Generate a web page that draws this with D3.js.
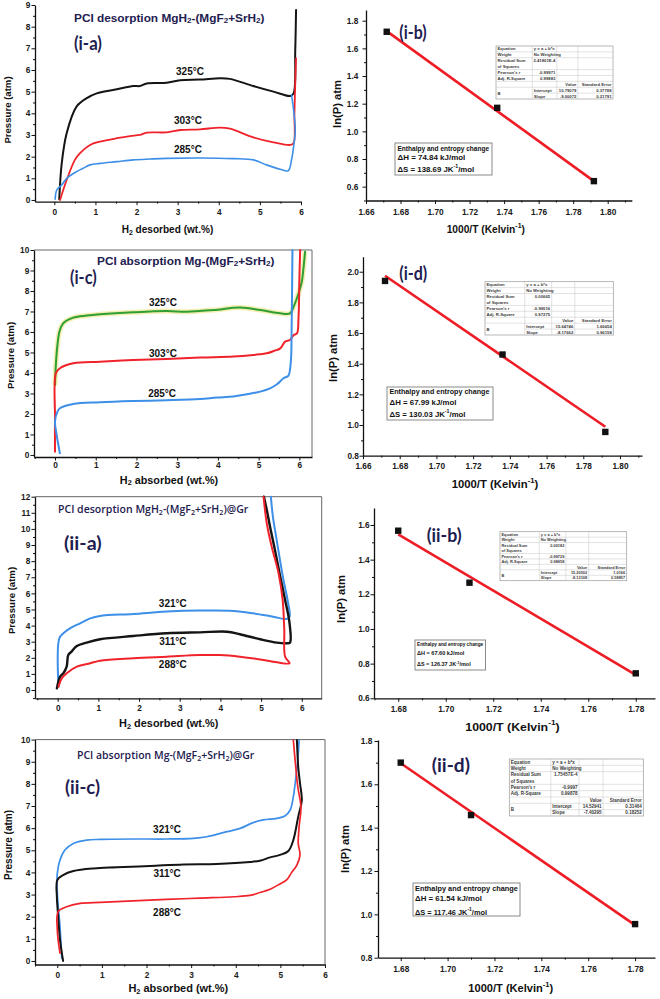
<!DOCTYPE html>
<html>
<head>
<meta charset="utf-8">
<script src="https://cdn.jsdelivr.net/npm/d3@7"></script>
<style>
body{margin:0;background:#fff;}
svg{display:block;}
</style>
</head>
<body>
<svg id="chart" width="660" height="999"></svg>
<script>
// ================= DATA =================
// (i-a) PCI desorption MgH2-(MgF2+SrH2)
const iaTemps = ["325°C", "303°C", "285°C"];
const ia325 = [[0.12,0.03],[0.18,1.69],[0.30,3.08],[0.54,4.31],[0.78,4.69],[1.03,4.92],[1.52,5.11],[1.92,5.26],[2.08,5.26],[2.25,5.38],[2.73,5.41],[3.06,5.53],[3.54,5.56],[4.03,5.62],[4.27,5.59],[4.84,5.26],[5.33,5.0],[5.74,4.80],[5.82,4.92],[5.86,6.9],[5.88,8.77]];
const ia303 = [[0.14,0.0],[0.30,0.92],[0.50,1.85],[0.62,2.15],[0.87,2.54],[1.11,2.69],[1.52,2.85],[1.84,2.95],[2.08,3.0],[2.25,3.11],[2.73,3.12],[3.06,3.23],[3.54,3.26],[4.03,3.34],[4.27,3.29],[4.84,2.89],[5.33,2.66],[5.74,2.54],[5.82,2.62],[5.84,4.0],[5.86,5.38],[5.88,6.54]];
const ia285 = [[0.02,0.03],[0.06,0.46],[0.18,0.69],[0.30,1.0],[0.54,1.31],[0.70,1.46],[0.87,1.62],[1.11,1.69],[1.52,1.77],[1.92,1.85],[2.33,1.89],[2.73,1.92],[3.54,1.94],[4.35,1.91],[4.84,1.85],[5.16,1.62],[5.49,1.42],[5.69,1.35],[5.77,1.85],[5.82,2.46],[5.86,3.23],[5.82,4.15],[5.77,4.85]];
const iaLabelXY = [[3.30,5.91],[3.25,3.69],[3.25,2.35]];

// (i-b) van't Hoff, desorption
const ibInvT = [1.672, 1.736, 1.792];
const ibLnP = [1.72, 1.17, 0.64];
const ibFit = [[1.672, 1.725], [1.792, 0.64]];
const ibStats = ["y = a + b*x","No Weighting","2.41801E-4","-0.99971","0.99883","10.79079","0.37788","-9.00072","0.21791"];
const ibThermo = ["74.84", "138.69"];

// (i-c) PCI absorption Mg-(MgF2+SrH2)
const icTemps = ["325°C", "303°C", "285°C"];
const ic325 = [[0,3.41],[0.02,4.39],[0.06,5.37],[0.11,6.02],[0.2,6.42],[0.45,6.7],[0.78,6.8],[1.1,6.86],[1.92,6.96],[2.74,7.02],[3.24,6.99],[3.89,7.07],[4.55,7.19],[5.04,7.07],[5.53,6.91],[5.77,6.91],[5.86,7.24],[5.98,7.89],[6.06,8.46],[6.10,9.1],[6.14,9.92]];
const ic303 = [[0,0.16],[0,1.79],[0.02,3.98],[0.12,4.23],[0.45,4.47],[1.1,4.55],[1.92,4.63],[2.74,4.68],[3.56,4.75],[4.38,4.8],[4.87,4.88],[5.2,4.96],[5.37,5.07],[5.53,5.2],[5.65,5.53],[5.77,5.61],[5.86,5.85],[5.94,5.93],[5.98,6.75],[6.0,8.62],[6.02,10]];
const ic285 = [[0.12,0.08],[0.04,0.98],[0,1.63],[0.06,2.11],[0.12,2.28],[0.45,2.49],[1.1,2.57],[1.92,2.63],[2.74,2.67],[3.56,2.73],[3.97,2.8],[4.38,2.85],[4.71,2.96],[5.04,3.09],[5.28,3.25],[5.45,3.45],[5.61,3.74],[5.73,3.87],[5.79,4.55],[5.81,6.18],[5.83,10]];
const icLabelXY = [[2.65,7.46],[2.65,4.93],[2.63,2.98]];

// (i-d) van't Hoff, absorption
const idInvT = [1.672, 1.736, 1.792];
const idLnP = [1.94, 1.46, 0.955];
const idFit = [[1.672, 1.974], [1.792, 0.989]];
const idStats = ["y = a + b*x","No Weighting","0.00665","-0.99516","0.97275","15.64746","1.66654","-8.17662","0.96158"];
const idThermo = ["67.99", "130.03"];

// (ii-a) PCI desorption MgH2-(MgF2+SrH2)@Gr
const iiaTemps = ["321°C", "311°C", "288°C"];
const iia321 = [[0.02,0.21],[0.04,3.21],[0.14,3.52],[0.3,3.83],[0.55,4.14],[0.8,4.45],[1.04,4.6],[1.86,4.72],[2.68,4.87],[3.5,4.93],[4.32,4.91],[4.81,4.76],[5.3,4.55],[5.63,4.41],[5.7,4.55],[5.65,5.59],[5.55,6.83],[5.45,8.28],[5.37,9.52],[5.29,10.77],[5.24,12]];
const iia311 = [[-0.02,0.1],[0.06,0.83],[0.14,1.04],[0.22,1.45],[0.26,2.17],[0.34,2.38],[0.47,2.73],[0.71,2.94],[1.04,3.15],[1.86,3.35],[2.68,3.52],[3.5,3.58],[4.16,3.62],[4.48,3.46],[4.98,3.15],[5.39,2.94],[5.63,2.9],[5.71,2.94],[5.7,4.14],[5.59,5.59],[5.47,7.04],[5.34,8.7],[5.22,10.14],[5.14,11.18],[5.07,12]];
const iia288 = [[0.02,0.21],[0.1,0.72],[0.22,1.04],[0.47,1.45],[0.8,1.66],[1.04,1.82],[1.86,1.97],[2.68,2.07],[3.5,2.17],[3.99,2.17],[4.48,2.07],[4.98,1.9],[5.39,1.72],[5.7,1.66],[5.59,2.07],[5.57,3.73],[5.53,5.59],[5.43,7.25],[5.26,8.9],[5.14,10.35],[5.06,12]];
const iiaLabelXY = [[2.83,5.34],[2.83,3.04],[2.83,1.61]];

// (ii-b) van't Hoff, desorption @Gr
const iibInvT = [1.68, 1.71, 1.78];
const iibLnP = [1.567, 1.267, 0.744];
const iibFit = [[1.68, 1.546], [1.78, 0.735]];
const iibStats = ["y = a + b*x","No Weighting","0.00182","-0.99729","0.98958","15.20502","1.0166","-8.13108","0.58857"];
const iibThermo = ["67.60", "126.37"];

// (ii-c) PCI absorption Mg-(MgF2+SrH2)@Gr
const iicTemps = ["321°C", "311°C", "288°C"];
const iic321 = [[0.1,0.12],[0.06,1.55],[0,3.05],[0,3.96],[0.06,4.56],[0.17,5.01],[0.36,5.31],[0.66,5.46],[0.96,5.49],[1.7,5.51],[2.45,5.51],[3.05,5.54],[3.35,5.61],[3.8,5.84],[4.1,5.99],[4.39,6.25],[4.62,6.37],[4.92,6.44],[5.1,6.55],[5.22,6.82],[5.29,7.42],[5.34,8.17],[5.39,9.07],[5.42,9.98]];
const iic311 = [[0.13,0],[0.06,0.95],[0.02,2.0],[-0.01,2.9],[0,3.66],[0.13,3.88],[0.36,4.06],[0.81,4.18],[1.33,4.23],[2.08,4.29],[2.83,4.36],[3.57,4.38],[4.32,4.47],[4.54,4.53],[4.77,4.68],[4.99,4.79],[5.18,4.97],[5.29,5.46],[5.4,6.52],[5.48,7.27],[5.44,8.02],[5.4,8.77],[5.37,9.98]];
const iic288 = [[0.06,0.35],[0,1.4],[0.02,2.23],[0.21,2.45],[0.51,2.6],[0.96,2.65],[1.7,2.71],[2.45,2.78],[3.2,2.84],[3.95,2.9],[4.32,2.96],[4.54,3.09],[4.77,3.24],[4.99,3.48],[5.14,3.66],[5.25,3.99],[5.37,4.33],[5.44,4.79],[5.4,5.31],[5.42,6.06],[5.46,6.97],[5.39,7.87],[5.33,9.07],[5.29,9.98]];
const iicLabelXY = [[2.46,5.96],[2.46,3.97],[2.46,2.17]];

// (ii-d) van't Hoff, absorption @Gr
const iidInvT = [1.68, 1.71, 1.78];
const iidLnP = [1.70, 1.458, 0.955];
const iidFit = [[1.68, 1.697], [1.78, 0.95]];
const iidStats = ["y = a + b*x","No Weighting","1.75457E-4","-0.9997","0.99878","14.52941","0.31464","-7.40295","0.18252"];
const iidThermo = ["61.54", "117.46"];

// tick values
const pciXTicks = [0,1,2,3,4,5,6];
const iaYTicks = [0,1,2,3,4,5,6,7,8,9];
const icYTicks = [0,1,2,3,4,5,6,7,8,9,10];
const iiaYTicks = [0,1,2,3,4,5,6,7,8,9,10,11,12];
const iicYTicks = [0,1,2,3,4,5,6,7,8,9,10];
const ibXTicks = [1.66,1.68,1.70,1.72,1.74,1.76,1.78,1.80];
const ibYTicks = [0.6,0.8,1.0,1.2,1.4,1.6,1.8];
const idYTicks = [0.8,1.0,1.2,1.4,1.6,1.8,2.0];
const iiXTicks = [1.68,1.70,1.72,1.74,1.76,1.78];
const iibYTicks = [0.6,0.8,1.0,1.2,1.4,1.6];
const iidYTicks = [0.8,1.0,1.2,1.4,1.6,1.8];

// ================= DRAWING =================
const FONT = '"Liberation Sans", Arial, Helvetica, sans-serif';
const svg = d3.select("#chart");
svg.append("rect").attr("width",660).attr("height",999).attr("fill","#fff");

const C = {black:"#141414", red:"#f0232b", blue:"#3d8fe8", green:"#2f9e35", navy:"#1e2050", fit:"#ee1d25"};

function rich(t, parts, fs) {
  let shift = 0;
  parts.forEach(p => {
    let txt, target = 0, size = null;
    if (typeof p === "string") { txt = p; }
    else if (p.sub !== undefined) { txt = p.sub; target = 0.28*fs; size = 0.68*fs; }
    else { txt = p.sup; target = -0.42*fs; size = 0.68*fs; }
    const ts = t.append("tspan").text(txt);
    if (target - shift !== 0) ts.attr("dy", target - shift);
    if (size) ts.attr("font-size", size);
    shift = target;
  });
  return t;
}
function fitW(t, target, ax) {
  const w = t.node().getBBox().width;
  if (w > 0) t.attr("transform", `translate(${ax},0) scale(${target/w},1) translate(${-ax},0)`);
}
function minorOf(major, step, dom) {
  const lo = Math.min(dom[0],dom[1]), hi = Math.max(dom[0],dom[1]);
  const out = [];
  const all = [major[0]-step].concat(major);
  all.forEach(v => { const m = +(v + step/2).toFixed(4); if (m >= lo-1e-9 && m <= hi+1e-9) out.push(m); });
  return out;
}
function styleAxis(sel, fs) {
  sel.selectAll("text").attr("font-family",FONT).attr("font-weight","bold").attr("font-size",fs).attr("fill","#1a1a1a");
  sel.selectAll("line").attr("stroke","#111").attr("stroke-width",1);
  sel.select(".domain").attr("stroke","#111").attr("stroke-width",1.3);
}
function drawAxes(g, x, y, o) {
  const y0 = y.range()[0], x0 = x.range()[0];
  const gx2 = g.append("g").attr("transform",`translate(0,${y0})`)
    .call(d3.axisBottom(x).tickValues(minorOf(o.xTicks, o.xStep, x.domain())).tickSize(2).tickFormat(""));
  gx2.select(".domain").remove(); styleAxis(gx2, o.fs);
  const gy2 = g.append("g").attr("transform",`translate(${x0},0)`)
    .call(d3.axisLeft(y).tickValues(minorOf(o.yTicks, o.yStep, y.domain())).tickSize(2).tickFormat(""));
  gy2.select(".domain").remove(); styleAxis(gy2, o.fs);
  const gx = g.append("g").attr("transform",`translate(0,${y0})`)
    .call(d3.axisBottom(x).tickValues(o.xTicks).tickSize(3.5).tickSizeOuter(0).tickPadding(o.xPad).tickFormat(o.xFmt));
  styleAxis(gx, o.fs);
  const gy = g.append("g").attr("transform",`translate(${x0},0)`)
    .call(d3.axisLeft(y).tickValues(o.yTicks).tickSize(3.5).tickSizeOuter(0).tickPadding(o.yPad).tickFormat(o.yFmt));
  styleAxis(gy, o.fs);
}
function frame(g, x, y) {
  const [xa, xb] = x.range(), [ya, yb] = y.range();
  g.append("path").attr("d", `M${xa},${yb}H${xb}V${ya}`).attr("fill","none").attr("stroke","#666").attr("stroke-width",1);
}
function title(g, parts, x0, width, cy, opt) {
  const t = g.append("text").attr("x",x0).attr("y",cy).attr("dominant-baseline","central")
    .attr("font-family", opt.font).attr("font-weight", opt.weight).attr("font-size", opt.fs).attr("fill", C.navy);
  rich(t, parts, opt.fs);
  fitW(t, width, x0);
}
function tag(g, txt, x0, width, cy) {
  const t = g.append("text").attr("x",x0).attr("y",cy).attr("dominant-baseline","central")
    .attr("font-family","Lato, 'Open Sans', sans-serif").attr("font-weight","bold").attr("font-size",19).attr("fill",C.navy).text(txt);
  fitW(t, width, x0);
}
function xTitle(g, parts, cx, width, cy, fs) {
  const t = g.append("text").attr("x",cx).attr("y",cy).attr("text-anchor","middle").attr("dominant-baseline","central")
    .attr("font-family",FONT).attr("font-weight","bold").attr("font-size",fs).attr("fill","#111");
  rich(t, parts, fs);
  fitW(t, width, cx);
}
function yTitle(g, txt, cx, cy, fs) {
  g.append("text").attr("transform",`translate(${cx},${cy}) rotate(-90)`).attr("text-anchor","middle").attr("dominant-baseline","central")
    .attr("font-family",FONT).attr("font-weight","bold").attr("font-size",fs).attr("fill","#111").text(txt);
}

function pciPanel(cfg) {
  const g = svg.append("g");
  const x = d3.scaleLinear().domain(cfg.xd).range(cfg.xr);
  const y = d3.scaleLinear().domain(cfg.yd).range(cfg.yr);
  if (cfg.frame) frame(g, x, y);
  const line = d3.line().x(d => x(d[0])).y(d => y(d[1])).curve(d3.curveCatmullRom.alpha(0.5));
  cfg.series.forEach(s => {
    if (s.halo) g.append("path").attr("d", line(s.data)).attr("fill","none").attr("stroke","#f3efb0").attr("stroke-width",5).attr("stroke-linejoin","round");
  });
  cfg.series.forEach(s => {
    g.append("path").attr("d", line(s.data)).attr("fill","none").attr("stroke", s.color)
      .attr("stroke-width", s.w || 1.8).attr("stroke-linejoin","round").attr("stroke-linecap","round");
  });
  drawAxes(g, x, y, {xTicks: pciXTicks, xStep: 1, yTicks: cfg.yTicks, yStep: 1, fs: 8.3,
    xPad: cfg.xPad, yPad: 1.2, xFmt: d3.format("d"), yFmt: d3.format("d")});
  g.selectAll("text.tl").data(cfg.labels).join("text").attr("class","tl")
    .attr("x", (d,i) => x(cfg.labelXY[i][0])).attr("y", (d,i) => y(cfg.labelXY[i][1]))
    .attr("text-anchor","middle").attr("dominant-baseline","central")
    .attr("font-family",FONT).attr("font-weight","bold").attr("font-size",10).attr("fill","#111").text(d => d);
  return g;
}

function statsTable(g, x0, y0, w, h, v) {
  const cols = [0, 0.31, 0.52, 0.70, 1].map(f => x0 + f*w);
  const ru = h/9;
  const rb = [0,1,2,4,5,6,7,8,9].map(u => y0 + u*ru);
  g.append("rect").attr("x",x0).attr("y",y0).attr("width",w).attr("height",h).attr("fill","#fff").attr("stroke","#9a9a9a").attr("stroke-width",0.7);
  rb.slice(1,-1).forEach((yy,i) => {
    g.append("line").attr("x1", i === 6 ? cols[1] : cols[0]).attr("x2", cols[4]).attr("y1",yy).attr("y2",yy).attr("stroke","#c4c4c4").attr("stroke-width",0.5);
  });
  [1,2,3].forEach(c => g.append("line").attr("x1",cols[c]).attr("x2",cols[c]).attr("y1",y0).attr("y2",y0+h).attr("stroke","#c4c4c4").attr("stroke-width",0.5));
  const fs = ru*0.72;
  const T = (txt, xx, u, anchor) => g.append("text").attr("x",xx).attr("y", y0 + (u+0.5)*ru).attr("text-anchor",anchor)
    .attr("dominant-baseline","central").attr("font-family",FONT).attr("font-weight","bold").attr("font-size",fs).attr("fill","#3a3a3a").text(txt);
  const L = cols[0]+1.5;
  T("Equation", L, 0, "start"); T("Weight", L, 1, "start"); T("Residual Sum", L, 2, "start"); T("of Squares", L, 3, "start");
  T("Pearson's r", L, 4, "start"); T("Adj. R-Square", L, 5, "start"); T("B", L, 7.5, "start");
  T(v[0], cols[1]+1.5, 0, "start"); T(v[1], cols[1]+1.5, 1, "start");
  T(v[2], cols[2]-1.5, 2, "end"); T(v[3], cols[2]-1.5, 4, "end"); T(v[4], cols[2]-1.5, 5, "end");
  T("Value", cols[3]-1.5, 6, "end"); T("Standard Error", cols[4]-1.5, 6, "end");
  T("Intercept", cols[1]+1.5, 7, "start"); T(v[5], cols[3]-1.5, 7, "end"); T(v[6], cols[4]-1.5, 7, "end");
  T("Slope", cols[1]+1.5, 8, "start"); T(v[7], cols[3]-1.5, 8, "end"); T(v[8], cols[4]-1.5, 8, "end");
}

function thermoBox(g, b, th) {
  g.append("rect").attr("x",b.x).attr("y",b.y).attr("width",b.w).attr("height",b.h).attr("fill","#fff").attr("stroke","#8a8a8a").attr("stroke-width",1);
  const mk = (parts, cy, wid) => {
    const t = g.append("text").attr("x",b.tx).attr("y",cy).attr("dominant-baseline","central")
      .attr("font-family",FONT).attr("font-weight","bold").attr("font-size",b.fs).attr("fill","#111");
    rich(t, parts, b.fs); fitW(t, wid, b.tx);
  };
  mk(["Enthalpy and entropy change"], b.ly[0], b.lw[0]);
  mk(["ΔH =  " + th[0] + " kJ/mol"], b.ly[1], b.lw[1]);
  mk(["ΔS =  " + th[1] + " JK", {sup:"-1"}, "/mol"], b.ly[2], b.lw[2]);
}

function vhPanel(cfg) {
  const g = svg.append("g");
  const x = d3.scaleLinear().domain(cfg.xd).range(cfg.xr);
  const y = d3.scaleLinear().domain(cfg.yd).range(cfg.yr);
  drawAxes(g, x, y, {xTicks: cfg.xTicks, xStep: 0.02, yTicks: cfg.yTicks, yStep: 0.2, fs: 8.3,
    xPad: cfg.xPad, yPad: cfg.yPad, xFmt: d3.format(".2f"), yFmt: d3.format(".1f")});
  statsTable(g, cfg.table[0], cfg.table[1], cfg.table[2], cfg.table[3], cfg.stats);
  g.append("path").attr("d", d3.line().x(d => x(d[0])).y(d => y(d[1]))(cfg.fit))
    .attr("stroke", C.fit).attr("stroke-width", 2.6).attr("fill","none");
  const pts = d3.zip(cfg.px, cfg.py);
  g.selectAll("rect.pt").data(pts).join("rect").attr("class","pt")
    .attr("x", d => x(d[0]) - 3.2).attr("y", d => y(d[1]) - 3.2).attr("width",6.4).attr("height",6.4).attr("fill","#111");
  thermoBox(g, cfg.box, cfg.thermo);
  return g;
}

// ---------- (i-a) ----------
const gA = pciPanel({xd:[-0.47,6.0], xr:[35,301], yd:[-0.08,9], yr:[201.7,5], yTicks: iaYTicks, xPad: 3.8, frame:false,
  series:[{data:ia325,color:C.black,w:2},{data:ia303,color:C.red,w:1.8},{data:ia285,color:C.blue,w:1.6}],
  labels: iaTemps, labelXY: iaLabelXY});
title(gA, ["PCI desorption MgH",{sub:"2"},"-(MgF",{sub:"2"},"+SrH",{sub:"2"},")"], 74, 191, 17, {font:FONT, weight:"bold", fs:11.5});
tag(gA, "(i-a)", 74, 28, 43);
xTitle(gA, ["H",{sub:"2"}," desorbed (wt.%)"], 167.5, 91.7, 229, 10.3);
yTitle(gA, "Pressure (atm)", 7, 110, 9.6);

// ---------- (i-b) ----------
const gB = vhPanel({xd:[1.66,1.814], xr:[366, 366+0.154*1726.4], yd:[0.5,1.877], yr:[200.5,10.05],
  xTicks: ibXTicks, yTicks: ibYTicks, xPad: 5.2, yPad: 4.2,
  px: ibInvT, py: ibLnP, fit: ibFit, stats: ibStats, table:[496,46,117,53], thermo: ibThermo,
  box:{x:395,y:143,w:97,h:32,tx:397.5,fs:7,ly:[148,157,169.5],lw:[92,68,77]}});
tag(gB, "(i-b)", 399.3, 27.3, 31.7);
xTitle(gB, ["1000/T (Kelvin",{sup:"-1"},")"], 485.8, 78.3, 229, 10.3);
yTitle(gB, "ln(P) atm", 337, 104, 11.2);

// ---------- (i-c) ----------
const gC = pciPanel({xd:[-0.516,6.31], xr:[34,312], yd:[-0.1,10], yr:[457,250], yTicks: icYTicks, xPad: 1.8, frame:true,
  series:[{data:ic325,color:C.green,w:2,halo:true},{data:ic303,color:C.red,w:2},{data:ic285,color:C.blue,w:2}],
  labels: icTemps, labelXY: icLabelXY});
title(gC, ["PCI absorption Mg-(MgF",{sub:"2"},"+SrH",{sub:"2"},")"], 97, 178, 260, {font:FONT, weight:"bold", fs:11.5});
tag(gC, "(i-c)", 70, 26.7, 277);
xTitle(gC, ["H",{sub:"2"}," absorbed (wt.%)"], 169, 98.3, 480, 10.3);
yTitle(gC, "Pressure (atm)", 10, 355.5, 9.6);

// ---------- (i-d) ----------
const gD = vhPanel({xd:[1.66,1.812], xr:[363, 363+0.152*1835.7], yd:[0.8,2.098], yr:[455.7,256.7],
  xTicks: ibXTicks, yTicks: idYTicks, xPad: 3.8, yPad: 0.5,
  px: idInvT, py: idLnP, fit: idFit, stats: idStats, table:[485,281.7,128.3,53.3], thermo: idThermo,
  box:{x:387,y:387,w:106,h:33,tx:389.5,fs:7.2,ly:[392.3,401.7,414.5],lw:[100,67,76]}});
tag(gD, "(i-d)", 399.3, 28, 273.3);
xTitle(gD, ["1000/T (Kelvin",{sup:"-1"},")"], 495, 86.7, 484, 10.3);
yTitle(gD, "ln(P) atm", 333, 358, 11.2);

// ---------- (ii-a) ----------
const gE = pciPanel({xd:[-0.558,6.49], xr:[35,321.7], yd:[-0.515,12], yr:[698.3,496.7], yTicks: iiaYTicks, xPad: 3.2, frame:true,
  series:[{data:iia321,color:C.blue,w:2},{data:iia311,color:C.black,w:2.4},{data:iia288,color:C.red,w:2}],
  labels: iiaTemps, labelXY: iiaLabelXY});
title(gE, ["PCI desorption MgH",{sub:"2"},"-(MgF",{sub:"2"},"+SrH",{sub:"2"},")@Gr"], 58, 191, 509, {font:"'Open Sans', sans-serif", weight:"600", fs:10.5});
tag(gE, "(ii-a)", 64, 37.7, 543);
xTitle(gE, ["H",{sub:"2"}," desorbed (wt.%)"], 168.7, 99.3, 723, 10.3);
yTitle(gE, "Pressure (atm)", 11, 600.5, 9.6);

// ---------- (ii-b) ----------
const gF = vhPanel({xd:[1.6698,1.7881], xr:[374,655], yd:[0.6,1.698], yr:[698.3,508],
  xTicks: iiXTicks, yTicks: iibYTicks, xPad: 4.2, yPad: 0.8,
  px: iibInvT, py: iibLnP, fit: iibFit, stats: iibStats, table:[500,531.7,126.7,49], thermo: iibThermo,
  box:{x:415,y:640,w:70.5,h:30,tx:417,fs:6.2,ly:[644.2,653.3,664],lw:[66.7,47.7,54]}});
tag(gF, "(ii-b)", 426.7, 35, 535);
xTitle(gF, ["1000/T (Kelvin",{sup:"-1"},")"], 512.5, 95, 727, 10.8);
yTitle(gF, "ln(P) atm", 341, 599, 11.2);

// ---------- (ii-c) ----------
const gG = pciPanel({xd:[-0.5,6.0], xr:[35,325], yd:[-0.16,10], yr:[964.5,739.6], yTicks: iicYTicks, xPad: 4, frame:true,
  series:[{data:iic321,color:C.blue,w:1.7},{data:iic311,color:C.black,w:2},{data:iic288,color:C.red,w:1.7}],
  labels: iicTemps, labelXY: iicLabelXY});
title(gG, ["PCI absorption Mg-(MgF",{sub:"2"},"+SrH",{sub:"2"},")@Gr"], 77, 178, 755, {font:"'Open Sans', sans-serif", weight:"600", fs:10.5});
tag(gG, "(ii-c)", 65, 35, 787);
xTitle(gG, ["H",{sub:"2"}," absorbed (wt.%)"], 178.3, 100, 988, 10.3);
yTitle(gG, "Pressure (atm)", 8, 845, 10);

// ---------- (ii-d) ----------
const gH = vhPanel({xd:[1.6703,1.7885], xr:[378,655], yd:[0.8,1.8044], yr:[957.7,740],
  xTicks: iiXTicks, yTicks: iidYTicks, xPad: 4.8, yPad: 2.2,
  px: iidInvT, py: iidLnP, fit: iidFit, stats: iidStats, table:[509.3,759,134,57], thermo: iidThermo,
  box:{x:413,y:883,w:107,h:33,tx:415,fs:7.2,ly:[887.7,898.3,911.7],lw:[103,67,72]}});
tag(gH, "(ii-d)", 431.7, 38.3, 765);
xTitle(gH, ["1000/T (Kelvin",{sup:"-1"},")"], 510.8, 85, 988, 10.3);
yTitle(gH, "ln(P) atm", 345, 849, 11.2);
</script>
</body>
</html>
